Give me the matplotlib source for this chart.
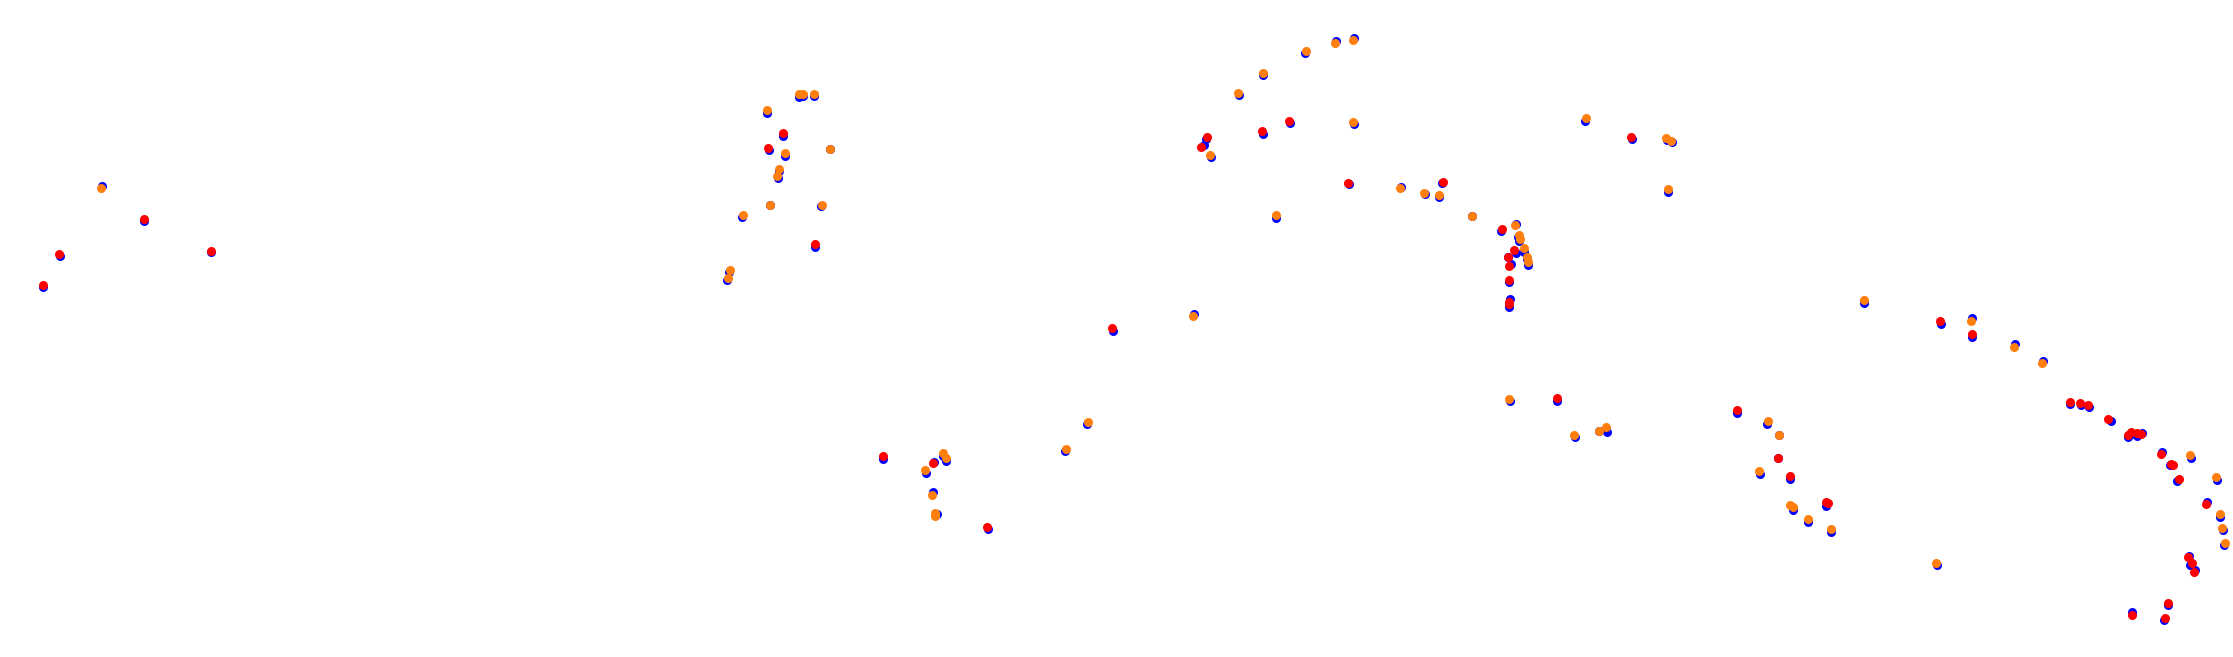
"""Three-layer point map: blue base points with orange / red markers on top."""

import matplotlib

matplotlib.use("Agg")
import matplotlib.pyplot as plt

# base layer (blue)
blue_x = [
    102, 144.3, 60, 43.3, 211,
    798.7, 803, 814, 767, 783.3, 769, 785, 830, 779, 777.7, 769.7, 820.7, 741.7, 815, 728.7, 727,
    1239, 1263, 1304.7, 1336.3, 1353.7, 1206, 1204, 1211, 1263, 1290, 1353.7, 1348.7, 1276,
    1401, 1425.3, 1439.3, 1441.7, 1472, 1500.7, 1516, 1517.7, 1519, 1524, 1516, 1507.7, 1527, 1528,
    1510.7, 1509.3, 1509.7, 1508.7,
    1584.7, 1632, 1666.7, 1672, 1667.7,
    1510, 1557, 1575, 1598.7, 1607,
    1113, 1194.3, 1086.7,
    882.7, 943, 946, 934.3, 926, 933, 937, 988, 1065,
    1864.3, 1941, 1972.3, 1972.3, 2015, 2043, 2069.7, 2081, 2089,
    1737.3, 1767.3, 1778.7, 1778, 1759.7, 1790, 1793.3, 1825.7, 1808, 1831, 1936.7,
    2110.7, 2127.7, 2131, 2137.3, 2142, 2162, 2170, 2177.3, 2190.7, 2216.7, 2206.7, 2220, 2223.3,
    2223.7, 2188.7, 2190.3, 2194.7, 2168.3, 2164, 2131.7,
]
blue_y = [
    186.3, 220.7, 256, 286.7, 252.3,
    96.7, 96, 96, 112.7, 136, 150, 156, 149, 171, 178, 204.7, 206, 217.3, 247.3, 272, 280,
    95, 75.3, 53, 41, 37.7, 139, 144.7, 156.7, 134, 122.7, 124.3, 183.7, 218,
    187.3, 194.3, 197.3, 183.3, 215.7, 231, 224, 237.3, 240.5, 251.7, 253.3, 256.7, 259, 264.7,
    264.3, 281.7, 299.3, 307.3,
    121, 139, 140, 142.3, 192,
    401, 400.7, 437.3, 431, 431.7,
    331, 314, 424.3,
    458.7, 456.3, 461, 462, 473.3, 492.3, 514.3, 529.3, 451,
    302.7, 323.7, 318, 337, 344.3, 361, 404, 405.3, 406.7,
    412.7, 423.7, 434.7, 457.7, 473.7, 478.7, 510, 506, 522, 532, 565.3,
    421, 436.7, 433.5, 436, 433.3, 452.3, 465.3, 481, 458.3, 479.7, 502, 516.7, 530,
    545.3, 556, 564.7, 570, 605.3, 620, 612.3,
]

# orange markers
orange_x = [
    100.7,
    799, 803.3, 814, 767, 785, 830, 779, 777, 769.7, 822, 742.7, 730, 728,
    1238, 1263, 1305.7, 1335, 1352.7, 1210.3, 1352.7, 1276,
    1400, 1424, 1439.3, 1472, 1515, 1519, 1520, 1524, 1526.7, 1527.7,
    1586, 1665.7, 1671, 1667.7,
    1509, 1574, 1598.7, 1606,
    1192.7, 1087.7,
    943, 946, 925.3, 931.7, 935, 935.3, 1066,
    1863.7, 1971, 2013.7, 2042,
    1768, 1778.7, 1759, 1790.3, 1793.3, 1808, 1831, 1936.3,
    2189.7, 2215.7, 2220, 2222, 2224.7,
]
orange_y = [
    187.7,
    94, 94, 94, 110, 153.3, 149, 169, 175.7, 204.7, 204.7, 215, 269.7, 277.7,
    92.7, 72.7, 51, 42.7, 40, 154.7, 121.7, 215,
    188.3, 192.7, 195, 215.7, 225.3, 235, 239.3, 247.7, 257.3, 262,
    117.7, 137.7, 140.7, 188.7,
    398.7, 434.7, 431, 427.3,
    315.7, 421.7,
    453, 458.3, 469.7, 495, 512.7, 516, 448.7,
    299.7, 320.7, 346.7, 362.7,
    421, 434.7, 470.7, 505, 507.3, 519, 529, 562.7,
    454.7, 476.7, 513.7, 527.7, 542.7,
]

# red markers
red_x = [
    144, 59, 43, 211.3,
    782.7, 768, 815.3,
    1207, 1201, 1262.3, 1289.3, 1348.3,
    1442.7, 1501.7, 1514, 1507.7, 1509.3, 1508.7, 1508.7, 1508.7,
    1630.7,
    1557, 1112.3, 882.7, 933.3, 987.3,
    1940.3, 1972, 2069.7, 2080.3, 2087.7,
    1736.7, 1778, 1790, 1826, 1827.7,
    2108.3, 2128, 2131, 2137, 2141, 2161.3, 2171, 2173.3, 2179, 2206.3, 2188, 2192, 2194.3,
    2168.3, 2165, 2131.7,
]
red_y = [
    219, 254, 285, 250.7,
    133.3, 148.3, 244.3,
    136.7, 146.7, 131.3, 120.7, 182.7,
    181.7, 229, 250, 256.7, 265.7, 280, 301.7, 304,
    136.7,
    398, 328.3, 456, 463.3, 527,
    320.7, 334, 402.3, 403.3, 405,
    410, 457.7, 475.7, 501.7, 503.3,
    419.3, 435, 431.7, 433, 434.3, 453.7, 464, 465.3, 479.3, 504.3, 557.3, 563.3, 572.3,
    602.7, 617.7, 614.7,
]

fig = plt.figure(figsize=(22.33, 6.57), dpi=100)
ax = fig.add_axes([0, 0, 1, 1])
ax.scatter(blue_x, blue_y, s=42, color="blue", linewidths=0)
ax.scatter(orange_x, orange_y, s=42, color="#ff7f0e", linewidths=0)
ax.scatter(red_x, red_y, s=42, color="red", linewidths=0)
ax.set_xlim(0, 2233)
ax.set_ylim(657, 0)
ax.axis("off")
fig.savefig("out.png", dpi=100)
plt.close(fig)
